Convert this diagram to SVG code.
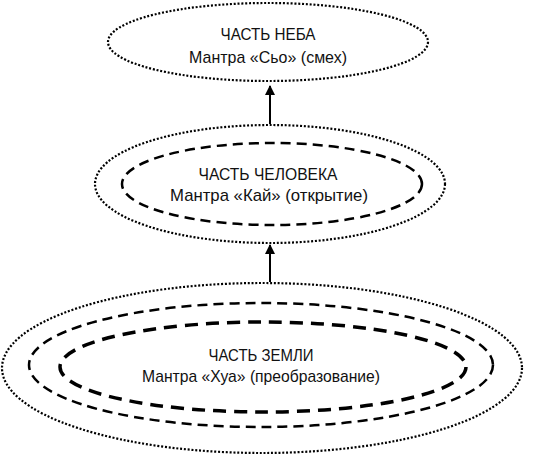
<svg xmlns="http://www.w3.org/2000/svg" width="536" height="457" viewBox="0 0 536 457">
<defs>
<marker id="arr" viewBox="0 0 10 10" refX="9" refY="5" markerWidth="5" markerHeight="5" orient="auto" markerUnits="strokeWidth">
<path d="M0,0 L10,5 L0,10 z" fill="#000"/>
</marker>
</defs>
<style>
.dot{fill:none;stroke:#000;stroke-width:2.2;stroke-dasharray:2 1.8}
.dash{fill:none;stroke:#000;stroke-width:2.5;stroke-dasharray:10 6}
.dash2{fill:none;stroke:#000;stroke-width:3.5;stroke-dasharray:13 8}
.t{font-family:"Liberation Sans",Arial,sans-serif;font-size:17px;fill:#111;text-anchor:middle}
.c{stroke:#000;stroke-width:2;fill:none}
</style>
<rect width="536" height="457" fill="#fff"/>
<g id="sky">
<ellipse class="dot" cx="268" cy="42" rx="160" ry="39"/>
<text class="t" x="268" y="40" textLength="95" lengthAdjust="spacingAndGlyphs">ЧАСТЬ НЕБА</text>
<text class="t" x="268" y="63" textLength="158" lengthAdjust="spacingAndGlyphs">Мантра «Сьо» (смех)</text>
</g>
<g id="human">
<ellipse class="dot" cx="270" cy="184" rx="175" ry="59"/>
<ellipse class="dash" cx="272" cy="184" rx="150" ry="41"/>
<text class="t" x="268" y="180" textLength="139" lengthAdjust="spacingAndGlyphs">ЧАСТЬ ЧЕЛОВЕКА</text>
<text class="t" x="269" y="201" textLength="198" lengthAdjust="spacingAndGlyphs">Мантра «Кай» (открытие)</text>
</g>
<g id="earth">
<ellipse class="dot" cx="262" cy="368" rx="260" ry="85"/>
<ellipse class="dash" cx="261" cy="365" rx="232" ry="62"/>
<ellipse class="dash2" cx="263" cy="367" rx="203" ry="45"/>
<text class="t" x="261" y="361" textLength="105" lengthAdjust="spacingAndGlyphs">ЧАСТЬ ЗЕМЛИ</text>
<text class="t" x="261" y="382" textLength="238" lengthAdjust="spacingAndGlyphs">Мантра «Хуа» (преобразование)</text>
</g>
<g id="connectors">
<line class="c" x1="270" y1="124" x2="270" y2="86" marker-end="url(#arr)"/>
<line class="c" x1="270" y1="282" x2="270" y2="245" marker-end="url(#arr)"/>
</g>
</svg>
